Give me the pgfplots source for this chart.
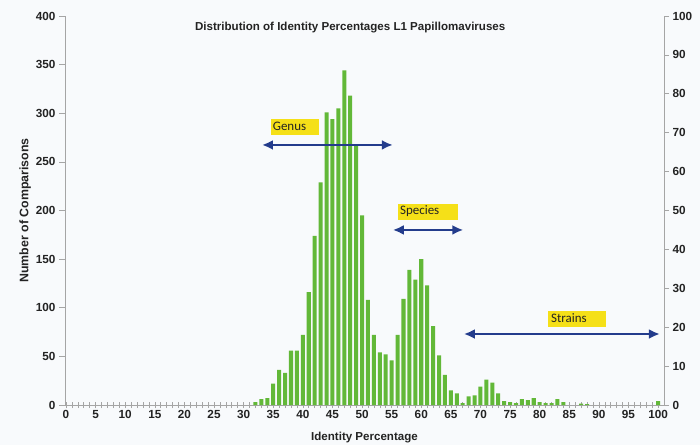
\documentclass[border=0pt]{standalone}
\usepackage{fontspec}
\setmainfont{Liberation Sans}
\newfontfamily\carlito{Carlito}
\usepackage{pgfplots}
\pgfplotsset{compat=1.18}
\usetikzlibrary{arrows.meta}
\definecolor{bg}{RGB}{248,250,252}
\definecolor{bargreen}{RGB}{98,184,56}
\definecolor{arrowblue}{RGB}{35,60,140}
\definecolor{labelyellow}{RGB}{245,224,24}
\definecolor{axisgray}{RGB}{165,165,165}
\definecolor{txt}{RGB}{35,35,35}
\pgfplotstableread{
x y
32 3
33 6
34 7
35 22
36 36
37 33
38 56
39 56
40 72
41 116
42 174
43 229
44 301
45 294
46 305
47 344
48 318
49 268
50 195
51 108
52 72
53 54
54 52
55 46
56 72
57 109
58 139
59 129
60 150
61 123
62 81
63 51
64 31
65 15
66 12
67 2
68 9
69 10
70 19
71 26
72 23
73 12
74 4
75 3
76 2
77 6
78 5
79 7
80 3
81 2
82 2
83 6
84 3
87 1.5
88 1
100 4
}\datatable
\begin{document}
\begin{tikzpicture}[x=1bp,y=1bp]
\fill[bg] (-65,-40) rectangle (635,405);
\begin{axis}[
  at={(0,0)}, anchor=south west,
  scale only axis, width=599bp, height=389bp,
  xmin=-0.17, xmax=101, ymin=0, ymax=400,
  axis x line*=bottom, axis y line*=left,
  axis line style={axisgray, line width=0.8bp},
  xtick={0,5,...,100}, minor xtick={0,1,...,100},
  ytick={0,50,...,400},
  xtick align=center, ytick align=outside,
  major tick length=6bp, minor tick length=6bp,
  tick style={axisgray, line width=0.6bp},
  ticklabel style={font=\bfseries\fontsize{11.8}{13}\selectfont, text=txt},
  /pgf/number format/assume math mode=true,
  xticklabel style={yshift=1bp},
  xlabel={Identity Percentage},
  ylabel={Number of Comparisons},
  xlabel style={font=\bfseries\fontsize{11.6}{13}\selectfont, text=txt, yshift=-6bp},
  ylabel style={font=\bfseries\fontsize{12.4}{14}\selectfont, text=txt, yshift=-2bp},
  clip=false,
]
\addplot[ybar, bar width=0.68, fill=bargreen, draw=none] table[x=x,y=y]{\datatable};
\node[font=\bfseries\fontsize{11.6}{13}\selectfont, text=txt] at (axis cs:48,388) {Distribution of Identity Percentages L1 Papillomaviruses};
% label boxes
\fill[labelyellow] (axis cs:34.6,277.6) rectangle (axis cs:42.7,294);
\node[anchor=west, inner sep=0pt, text=txt, font=\carlito\fontsize{13}{14}\selectfont] at (axis cs:34.9,286.3) {Genus};
\fill[labelyellow] (axis cs:56.1,190.2) rectangle (axis cs:66.2,206.7);
\node[anchor=west, inner sep=0pt, text=txt, font=\carlito\fontsize{13}{14}\selectfont] at (axis cs:56.4,198.9) {Species};
\fill[labelyellow] (axis cs:81.4,80.2) rectangle (axis cs:91.2,96.7);
\node[anchor=west, inner sep=0pt, text=txt, font=\carlito\fontsize{13}{14}\selectfont] at (axis cs:81.9,88.9) {Strains};
% arrows
\draw[arrowblue, line width=2.2bp, {Latex[length=11bp,width=10bp]}-{Latex[length=11bp,width=10bp]}] (axis cs:33.1,267.4) -- (axis cs:55.2,267.4);
\draw[arrowblue, line width=2.2bp, {Latex[length=11bp,width=10bp]}-{Latex[length=11bp,width=10bp]}] (axis cs:55.2,180) -- (axis cs:67.1,180);
\draw[arrowblue, line width=2.2bp, {Latex[length=11bp,width=10bp]}-{Latex[length=11bp,width=10bp]}] (axis cs:67.2,73) -- (axis cs:100.3,73);
\end{axis}
\begin{axis}[
  at={(0,0)}, anchor=south west,
  scale only axis, width=599bp, height=389bp,
  xmin=-0.17, xmax=101, ymin=0, ymax=100,
  axis x line=none, axis y line*=right,
  axis line style={axisgray, line width=0.8bp},
  ytick={0,10,...,100},
  ytick align=outside, major tick length=5bp,
  tick style={axisgray, line width=0.6bp},
  ticklabel style={font=\bfseries\fontsize{11.8}{13}\selectfont, text=txt},
  /pgf/number format/assume math mode=true,
]
\addplot[draw=none] coordinates {(0,0)};
\end{axis}
\end{tikzpicture}
\end{document}
